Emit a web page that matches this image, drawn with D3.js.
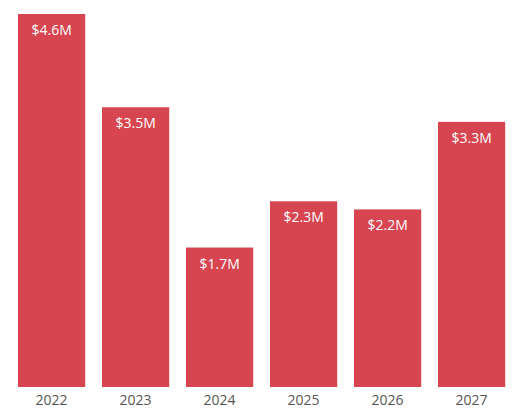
<!DOCTYPE html>
<html>
<head>
<meta charset="utf-8">
<script src="https://cdn.jsdelivr.net/npm/d3@7"></script>
<style>
    body { margin: 0; background: #fff; }
    svg text { font-family: "Open Sans", sans-serif; }
</style>
</head>
<body>
<div id="chart"></div>
<script>
// data
var years = ['2022', '2023', '2024', '2025', '2026', '2027'];
var revenue = [4.6, 3.45, 1.72, 2.29, 2.19, 3.27]; // in $M

var width = 523,
    height = 416;
var margin = { top: 14, right: 10, bottom: 29, left: 10 };

var svg = d3.select('#chart').append('svg')
    .attr('width', width)
    .attr('height', height);

var xScale = d3.scaleBand()
    .domain(years)
    .range([9.6, 513.6])
    .paddingInner(0.2)
    .paddingOuter(0.1);

var yScale = d3.scaleLinear()
    .domain([0, d3.max(revenue)])
    .range([height - margin.bottom, margin.top]);

var data = years.map(function (y, i) { return { year: y, value: revenue[i] }; });

svg.selectAll('rect.bar')
    .data(data)
    .enter().append('rect')
    .attr('class', 'bar')
    .attr('x', function (d) { return xScale(d.year); })
    .attr('y', function (d) { return yScale(d.value); })
    .attr('width', xScale.bandwidth())
    .attr('height', function (d) { return yScale(0) - yScale(d.value); })
    .attr('fill', '#d64550');

svg.selectAll('text.label')
    .data(data)
    .enter().append('text')
    .attr('class', 'label')
    .attr('x', function (d) { return xScale(d.year) + xScale.bandwidth() / 2; })
    .attr('y', function (d) { return yScale(d.value) + 21; })
    .attr('text-anchor', 'middle')
    .attr('fill', '#fff')
    .style('font-size', '14px')
    .text(function (d) { return '$' + d.value.toFixed(1) + 'M'; });

// x axis, no line, no ticks
var xAxis = svg.append('g')
    .attr('transform', 'translate(0,' + yScale(0) + ')')
    .call(d3.axisBottom(xScale).tickSize(0).tickPadding(8));
xAxis.select('.domain').remove();
xAxis.selectAll('text')
    .attr('fill', '#555')
    .style('font-size', '14px')
    .style('font-family', '"Open Sans", sans-serif');
</script>
</body>
</html>
